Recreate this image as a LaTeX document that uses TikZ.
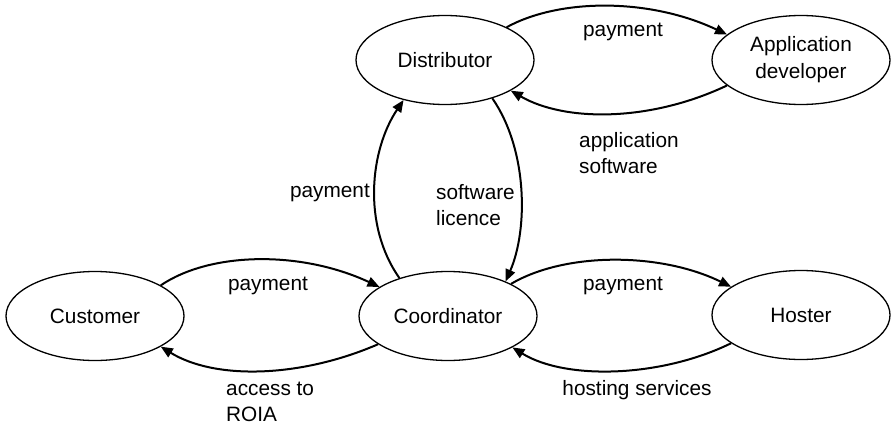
\documentclass[tikz,border=0pt]{standalone}
\usepackage{fontspec}
\setmainfont{Liberation Sans}
\usetikzlibrary{shapes.geometric,arrows.meta}
\begin{document}
\begin{tikzpicture}[x=1pt,y=-1pt,
  actor/.style={ellipse,draw,line width=1.3pt,minimum width=178pt,minimum height=89pt,inner sep=0pt,align=center,font=\fontsize{20.8}{27}\selectfont},
  flow/.style={line width=2pt,-{Triangle[length=12pt,width=10pt]}},
  lbl/.style={inner sep=0pt,align=left,font=\fontsize{20.8}{25.5}\selectfont}]
\useasboundingbox (0,0) rectangle (893,428);
\node[actor] (cust) at (95,316) {Customer};
\node[actor] (coord) at (448,316) {Coordinator};
\node[actor] (host) at (801,315) {Hoster};
\node[actor] (dist) at (445,60) {Distributor};
\node[actor] (app) at (801,60) {Application\\developer};

\draw[flow] (cust.25) .. controls (210,252) and (300,250) .. (coord.157);
\draw[flow] (coord.202) .. controls (300,378) and (215,380) .. (cust.335);
\draw[flow] (coord.27) .. controls (565,252) and (660,252) .. (host.158);
\draw[flow] (host.202) .. controls (660,378) and (565,380) .. (coord.334);
\draw[flow] (dist.28) .. controls (560,-2) and (650,-2) .. (app.161);
\draw[flow] (app.199) .. controls (650,122) and (565,122) .. (dist.335);
\draw[flow] (coord.142) .. controls (362,225) and (370,150) .. (dist.224);
\draw[flow] (dist.321) .. controls (528,150) and (528,230) .. (coord.31);

\node[lbl] (l1) at (623,32) {payment};
\node[lbl,anchor=west] (l2) at (579,153) {application\\software};
\node[lbl,anchor=east] (l3) at (370,193) {payment};
\node[lbl,anchor=west] (l4) at (436,205) {software\\licence};
\node[lbl] (l5) at (268,286) {payment};
\node[lbl,anchor=west] (l6) at (226,402) {access to\\ROIA};
\node[lbl] (l7) at (623,286) {payment};
\node[lbl] (l8) at (637,390) {hosting services};
\end{tikzpicture}
\end{document}
